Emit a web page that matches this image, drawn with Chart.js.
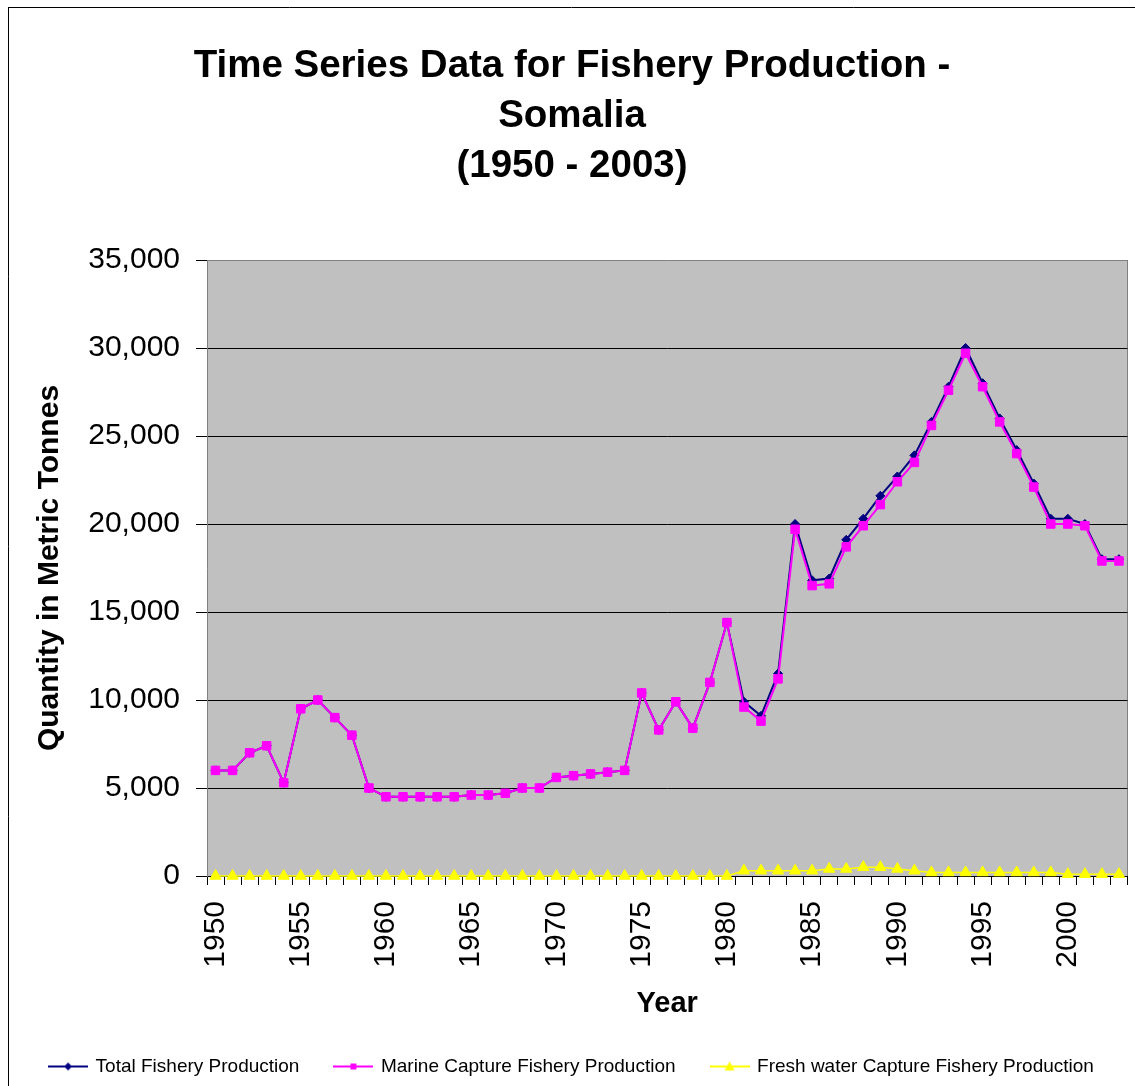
<!DOCTYPE html>
<html>
<head>
<meta charset="utf-8">
<script src="https://cdn.jsdelivr.net/npm/chart.js@4.4.1/dist/chart.umd.min.js"></script>
<style>
  html, body { margin: 0; padding: 0; background: #fff; }
  #wrap { position: relative; width: 1135px; height: 1086px; }
  canvas { display: block; }
</style>
</head>
<body>
<div id="wrap"><canvas id="c" width="1135" height="1086"></canvas></div>
<script>
const years = ['1950','1951','1952','1953','1954','1955','1956','1957','1958','1959',
  '1960','1961','1962','1963','1964','1965','1966','1967','1968','1969',
  '1970','1971','1972','1973','1974','1975','1976','1977','1978','1979',
  '1980','1981','1982','1983','1984','1985','1986','1987','1988','1989',
  '1990','1991','1992','1993','1994','1995','1996','1997','1998','1999',
  '2000','2001','2002','2003'];

const totalProduction = [6000,6000,7000,7400,5300,9500,10000,9000,8000,5000,
  4500,4500,4500,4500,4500,4600,4600,4700,5000,5000,
  5600,5700,5800,5900,6000,10400,8300,9900,8400,11000,
  14400,9900,9100,11500,20000,16800,16900,19100,20300,21600,
  22700,23900,25800,27800,30000,28000,26000,24200,22300,20300,
  20300,20000,18000,18000];

const marineProduction = [6000,6000,7000,7400,5300,9500,10000,9000,8000,5000,
  4500,4500,4500,4500,4500,4600,4600,4700,5000,5000,
  5600,5700,5800,5900,6000,10400,8300,9900,8400,11000,
  14400,9600,8800,11200,19700,16500,16600,18700,19900,21100,
  22400,23500,25600,27600,29700,27800,25800,24000,22100,20000,
  20000,19900,17900,17900];

const freshwaterProduction = [0,0,0,0,0,0,0,0,0,0,
  0,0,0,0,0,0,0,0,0,0,
  0,0,0,0,0,0,0,0,0,0,
  0,300,300,300,300,300,400,400,500,500,
  400,300,200,200,200,200,200,200,200,200,
  100,100,100,100];

const seriesNames = ['Total Fishery Production', 'Marine Capture Fishery Production', 'Fresh water Capture Fishery Production'];
const yTicks = [0, 5000, 10000, 15000, 20000, 25000, 30000, 35000];
const titleLines = ['Time Series Data for Fishery Production -', 'Somalia', '(1950 - 2003)'];

const FONT = '"Liberation Sans", Arial, sans-serif';

function legendSymbol(color, shape) {
  const c = document.createElement('canvas');
  c.width = 40; c.height = 14;
  const g = c.getContext('2d');
  g.strokeStyle = color; g.fillStyle = color; g.lineWidth = 2;
  g.beginPath(); g.moveTo(0, 7); g.lineTo(40, 7); g.stroke();
  g.beginPath();
  if (shape === 'diamond') {
    g.moveTo(20, 3); g.lineTo(24, 7); g.lineTo(20, 11); g.lineTo(16, 7); g.closePath();
  } else if (shape === 'square') {
    g.rect(17, 4, 6, 6);
  } else {
    g.moveTo(20, 2); g.lineTo(25, 11); g.lineTo(15, 11); g.closePath();
  }
  g.fill();
  return c;
}

const LEG_PAD = 36;
const LEG_FONT = 19;

const bgPlugin = {
  id: 'bg',
  beforeDraw(chart) {
    const {ctx, chartArea: a} = chart;
    ctx.save();
    ctx.fillStyle = '#C0C0C0';
    ctx.fillRect(a.left, a.top, a.right - a.left, a.bottom - a.top);
    ctx.strokeStyle = '#808080';
    ctx.lineWidth = 1;
    ctx.beginPath();
    ctx.moveTo(Math.round(a.right) - 0.5, a.top);
    ctx.lineTo(Math.round(a.right) - 0.5, a.bottom);
    ctx.stroke();
    // outer frame (left and top)
    ctx.strokeStyle = '#000';
    ctx.beginPath();
    ctx.moveTo(8.5, 7); ctx.lineTo(8.5, 1086);
    ctx.moveTo(8, 7.5); ctx.lineTo(1135, 7.5);
    ctx.stroke();
    ctx.restore();
  }
};

const xBottom = 1058 - LEG_PAD;

new Chart(document.getElementById('c'), {
  type: 'line',
  data: {
    labels: years,
    datasets: [
      {
        label: seriesNames[0], data: totalProduction,
        borderColor: '#000080', backgroundColor: '#000080',
        borderWidth: 2, pointStyle: 'rectRot', pointRadius: 4.5,
        pointBorderWidth: 1, tension: 0, clip: false, order: 3
      },
      {
        label: seriesNames[1], data: marineProduction,
        borderColor: '#FF00FF', backgroundColor: '#FF00FF',
        borderWidth: 2, pointStyle: 'rect', pointRadius: 6,
        pointBorderWidth: 1, tension: 0, clip: false, order: 2
      },
      {
        label: seriesNames[2], data: freshwaterProduction,
        borderColor: '#FFFF00', backgroundColor: '#FFFF00',
        borderWidth: 1.5, pointStyle: 'triangle', pointRadius: 6.5,
        pointBorderWidth: 1, tension: 0, clip: false, order: 1
      }
    ]
  },
  options: {
    responsive: false,
    animation: false,
    events: [],
    layout: { padding: { left: 9, right: 0, top: 8, bottom: 0 } },
    plugins: {
      tooltip: { enabled: false },
      title: {
        display: true,
        text: titleLines,
        color: '#000',
        font: { family: FONT, size: 38.5, weight: 'bold', lineHeight: 50/38.5 },
        padding: { top: 33, bottom: 69 }
      },
      legend: {
        position: 'bottom',
        align: 'center',
        labels: {
          usePointStyle: true,
          pointStyleWidth: 36,
          padding: LEG_PAD,
          color: '#000',
          font: { family: FONT, size: LEG_FONT },
          generateLabels(chart) {
            const syms = [legendSymbol('#000080','diamond'), legendSymbol('#FF00FF','square'), legendSymbol('#FFFF00','triangle')];
            return seriesNames.map((n, i) => ({
              text: n, pointStyle: syms[i], fillStyle: 'transparent', strokeStyle: 'transparent',
              lineWidth: 0, hidden: false, datasetIndex: i, fontColor: '#000'
            }));
          }
        }
      }
    },
    scales: {
      x: {
        type: 'category',
        offset: true,
        grid: { display: true, drawOnChartArea: false, drawTicks: true, tickLength: 9, tickColor: '#000', offset: true },
        border: { display: true, color: '#000', width: 1 },
        ticks: {
          autoSkip: false, minRotation: 90, maxRotation: 90, padding: 16,
          color: '#000', font: { family: FONT, size: 30 },
          callback(value, index) { const y = years[index]; return (+y) % 5 === 0 ? y : ''; }
        },
        title: {
          display: true, text: 'Year', color: '#000',
          font: { family: FONT, size: 29, weight: 'bold', lineHeight: 1.2 },
          padding: { top: 0, bottom: (xBottom - 1005 - 29*1.2/2) }
        },
        afterFit(scale) {
          scale.height = xBottom - 877;
          scale.paddingRight = 5;
          scale.paddingLeft = 0;
        }
      },
      y: {
        min: 0, max: 35000,
        afterBuildTicks(scale) { scale.ticks = yTicks.map(v => ({ value: v })); },
        grid: {
          color: (c) => (c.tick && c.tick.value === 35000) ? '#808080' : '#000',
          lineWidth: 1, tickLength: 11, tickColor: '#000', drawTicks: true
        },
        border: { display: true, color: '#808080', width: 1 },
        ticks: {
          padding: 16, color: '#000', font: { family: FONT, size: 30 },
          callback(v) { return Number(v).toLocaleString('en-US'); }
        },
        title: {
          display: true, text: 'Quantity in Metric Tonnes', color: '#000',
          font: { family: FONT, size: 30, weight: 'bold', lineHeight: 1.2 },
          padding: { top: 50 - 9 - 30*1.2/2, bottom: 0 }
        },
        afterFit(scale) { scale.width = 207 - 9; }
      }
    }
  },
  plugins: [bgPlugin]
});
</script>
</body>
</html>
